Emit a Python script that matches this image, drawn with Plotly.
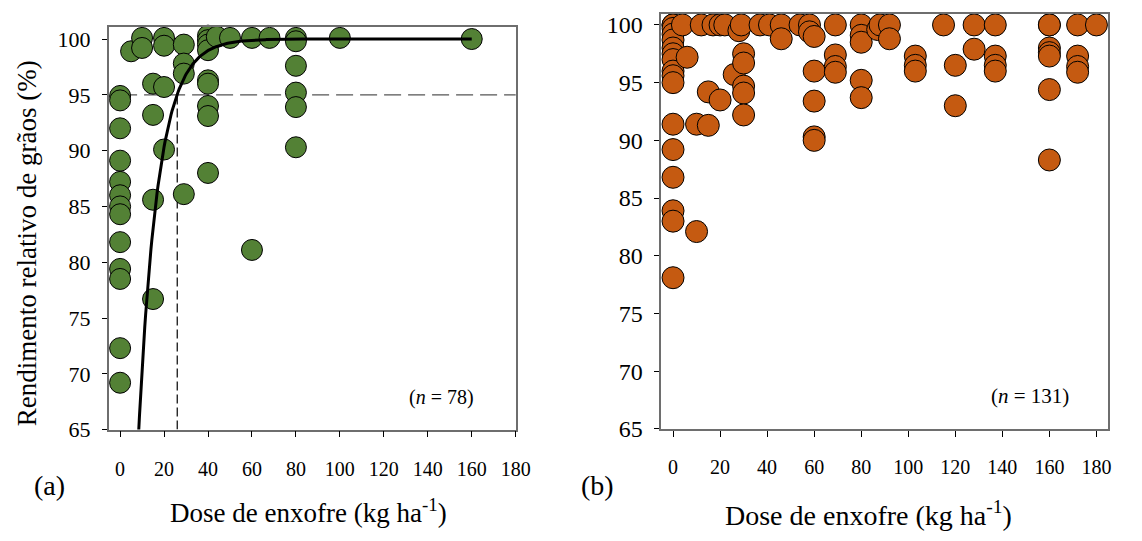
import numpy as np
import plotly.graph_objects as go

# ---------------- data ----------------
# Panel (a)
dose_a = [0, 0, 0, 0, 0, 0, 0, 0, 0, 0, 0, 0, 0,
          5, 10, 10, 15, 15, 15, 15, 20, 20, 20, 20,
          29, 29, 29, 29,
          40, 40, 40, 40, 40, 40, 40, 40, 40,
          44, 50, 60, 68,
          80, 80, 80, 80, 80, 80,
          100, 160, 60]
rend_a = [94.9, 94.5, 92.0, 89.1, 87.2, 86.0, 85.0, 84.3, 81.8, 79.4, 78.5, 72.3, 69.2,
          98.9, 100.1, 99.2, 96.0, 93.2, 85.6, 76.7, 100.1, 99.4, 95.7, 90.1,
          99.5, 97.8, 96.9, 86.1,
          100.3, 99.9, 99.5, 99.0, 96.3, 96.0, 94.0, 93.1, 88.0,
          100.2, 100.1, 100.1, 100.1,
          100.1, 99.8, 97.6, 95.2, 93.9, 90.3,
          100.1, 100.0, 81.1]

# fitted model (a): y = A - B * exp(-c * x)
fit_A = 100.0
fit_B = 90.5
fit_c = 0.1118
fit_xmax = 160
crit_dose = 26      # dose for 95 % relative yield
crit_yield = 95

# Panel (b)
dose_b = [0, 0, 0, 0, 0, 0, 0, 0, 0, 0, 0, 0, 0, 0, 0, 0, 0,
          4, 6, 10, 10, 15, 15, 12, 17, 20, 22, 20, 26, 28, 29,
          30, 30, 30, 30, 30, 37, 41, 46, 46, 54, 58, 58,
          60, 60, 60, 60, 60, 69, 69, 69, 69,
          80, 80, 80, 80, 80, 87, 88, 92, 92,
          103, 103, 103, 115, 120, 120, 128, 128,
          137, 137, 137, 137,
          160, 160, 160, 160, 160, 160, 160,
          172, 172, 172, 172, 180]
rend_b = [100.0, 100.0, 99.7, 99.2, 98.7, 98.0, 97.5, 97.0, 96.0, 95.6, 95.0, 91.4, 89.2, 86.8, 83.9, 83.0, 78.1,
          100.0, 97.2, 91.4, 82.1, 94.2, 91.3, 100.0, 100.0, 100.0, 100.0, 93.5, 95.7, 99.5, 100.0,
          97.5, 96.7, 94.7, 94.1, 92.2, 100.0, 100.0, 100.0, 98.8, 100.0, 100.0, 99.4,
          99.0, 96.0, 93.4, 90.3, 90.0, 100.0, 97.4, 96.4, 95.9,
          100.0, 99.1, 98.5, 95.2, 93.7, 99.6, 100.0, 100.0, 98.8,
          97.3, 96.5, 96.0, 100.0, 96.5, 93.0, 100.0, 97.9,
          100.0, 97.3, 96.5, 96.0,
          100.0, 100.0, 98.0, 97.6, 97.3, 94.4, 88.3,
          100.0, 97.3, 96.4, 95.9, 100.0]

x_ticks = [0, 20, 40, 60, 80, 100, 120, 140, 160, 180]
y_ticks = [65, 70, 75, 80, 85, 90, 95, 100]

n_a_label = "(<i>n</i> = 78)"
n_b_label = "(<i>n</i> = 131)"
x_title = "Dose de enxofre (kg ha<sup>-1</sup>)"
y_title = "Rendimento relativo de grãos (%)"

# ---------------- figure ----------------
W, H = 1142, 541
FONT = "Liberation Serif"


def px(x):
    return x / W


def py(y):
    return 1 - y / H


fig = go.Figure()

fit_x = np.linspace(0, fit_xmax, 400)
fit_y = fit_A - fit_B * np.exp(-fit_c * fit_x)

# reference dashed lines (a)
fig.add_trace(go.Scatter(x=[0, 180], y=[crit_yield, crit_yield], mode="lines",
                         line=dict(color="#555555", width=1.2, dash="17px,7px"),
                         xaxis="x", yaxis="y", hoverinfo="skip"))
fig.add_trace(go.Scatter(x=[crit_dose, crit_dose], y=[65, crit_yield], mode="lines",
                         line=dict(color="#000000", width=1.2, dash="9px,4px"),
                         xaxis="x", yaxis="y", hoverinfo="skip"))

fig.add_trace(go.Scatter(x=dose_a, y=rend_a, mode="markers",
                         marker=dict(size=21, color="#538135",
                                     line=dict(color="#000000", width=1)),
                         cliponaxis=False, xaxis="x", yaxis="y"))
fig.add_trace(go.Scatter(x=fit_x, y=fit_y, mode="lines",
                         line=dict(color="#000000", width=3),
                         xaxis="x", yaxis="y"))

fig.add_trace(go.Scatter(x=dose_b, y=rend_b, mode="markers",
                         marker=dict(size=22, color="#C55A11",
                                     line=dict(color="#000000", width=1)),
                         cliponaxis=False, xaxis="x2", yaxis="y2"))

axis_common = dict(showgrid=False, zeroline=False, showline=True, mirror=True,
                   linecolor="#6e6e6e", linewidth=1.5,
                   ticks="outside", tickcolor="#000000", tickwidth=1)

fig.update_layout(
    width=W, height=H,
    margin=dict(l=0, r=0, t=0, b=0),
    paper_bgcolor="white", plot_bgcolor="white",
    showlegend=False,
    font=dict(family=FONT, color="#000000"),
    xaxis=dict(domain=[px(110), px(523)], range=[-5.25, 180.2],
               tickvals=x_ticks, ticklen=6, ticklabelstandoff=15,
               tickfont=dict(size=20, family=FONT), anchor="y", **axis_common),
    yaxis=dict(domain=[py(440), py(27)], range=[65, 101.05],
               tickvals=y_ticks, ticklen=5, ticklabelstandoff=7,
               tickfont=dict(size=22, family=FONT), anchor="x", **axis_common),
    xaxis2=dict(domain=[px(670), px(1122.7)], range=[-5.03, 184.9],
                tickvals=x_ticks, ticklen=6, ticklabelstandoff=13,
                tickfont=dict(size=20, family=FONT), anchor="y2", **axis_common),
    yaxis2=dict(domain=[py(439.3), py(13.3)], range=[65, 100.95],
                tickvals=y_ticks, ticklen=5, ticklabelstandoff=7,
                tickfont=dict(size=24, family=FONT), anchor="x2", **axis_common),
)

ann = [
    dict(x=px(447), y=py(407), text=n_a_label, font=dict(size=20)),
    dict(x=px(1044), y=py(405), text=n_b_label, font=dict(size=21)),
    dict(x=px(313), y=py(524), text=x_title, font=dict(size=27)),
    dict(x=px(880), y=py(526), text=x_title, font=dict(size=28)),
    dict(x=px(50), y=py(497), text="(a)", font=dict(size=28)),
    dict(x=px(605), y=py(497), text="(b)", font=dict(size=28)),
    dict(x=px(27), y=py(249), text=y_title, font=dict(size=27), textangle=-90),
]
for a in ann:
    fig.add_annotation(xref="paper", yref="paper", showarrow=False,
                       xanchor="center", yanchor="middle", **a)

fig.write_html("out.html")
